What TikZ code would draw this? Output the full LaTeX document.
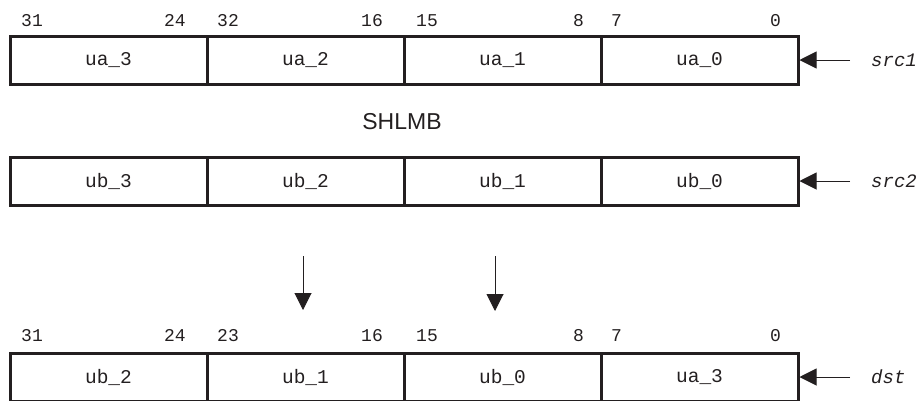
\documentclass[tikz,border=0pt]{standalone}
\usepackage{fontspec}
\newfontfamily\monof{Liberation Mono}
\newfontfamily\sansf{Liberation Sans}
\usetikzlibrary{arrows.meta}
\definecolor{ink}{HTML}{231F20}
\begin{document}
\begin{tikzpicture}[x=1pt,y=-1pt,
  cell/.style={draw=ink,line width=3pt,minimum width=197pt,minimum height=48pt,inner sep=0pt,
    font=\monof\fontsize{19.5}{21}\selectfont,text=ink},
  bitl/.style={anchor=base west,inner sep=0pt,font=\monof\fontsize{18}{20}\selectfont,text=ink},
  bitr/.style={anchor=base east,inner sep=0pt,font=\monof\fontsize{18}{20}\selectfont,text=ink},
  oplabel/.style={anchor=west,inner sep=0pt,font=\monof\itshape\fontsize{19}{21}\selectfont,text=ink},
  inarrow/.style={draw=ink,line width=1pt,-{Triangle[length=17pt,width=17pt]}},
]
\useasboundingbox (0,0) rectangle (924,400);
% row 1
\foreach \i/\t [count=\k from 0] in {3/ua\_3,2/ua\_2,1/ua\_1,0/ua\_0}
  \node[cell] (a\i) at (108.5+197*\k,60) {\t};
% row 2
\foreach \i/\t [count=\k from 0] in {3/ub\_3,2/ub\_2,1/ub\_1,0/ub\_0}
  \node[cell] (b\i) at (108.5+197*\k,181) {\t};
% row 3
\foreach \i/\t [count=\k from 0] in {3/ub\_2,2/ub\_1,1/ub\_0,0/ua\_3}
  \node[cell] (d\i) at (108.5+197*\k,377) {\t};
% bit labels row 1
\node[bitl] (t31) at (21,26) {31};
\node[bitr] (t24) at (186,26) {24};
\node[bitl] (t32) at (217,26) {32};
\node[bitr] (t16) at (383,26) {16};
\node[bitl] (t15) at (416,26) {15};
\node[bitr] (t8) at (584,26) {8};
\node[bitl] (t7) at (611,26) {7};
\node[bitr] (t0) at (781,26) {0};
% bit labels row 3
\node[bitl] (u31) at (21,341) {31};
\node[bitr] (u24) at (186,341) {24};
\node[bitl] (u23) at (217,341) {23};
\node[bitr] (u16) at (383,341) {16};
\node[bitl] (u15) at (416,341) {15};
\node[bitr] (u8) at (584,341) {8};
\node[bitl] (u7) at (611,341) {7};
\node[bitr] (u0) at (781,341) {0};
% title
\node[inner sep=0pt,font=\sansf\fontsize{23}{25}\selectfont,text=ink] (op) at (402,122) {SHLMB};
% operand labels and arrows
\node[oplabel] (s1) at (871,60) {src1};
\node[oplabel] (s2) at (871,181) {src2};
\node[oplabel] (ds) at (871,377) {dst};
\coordinate (e1) at (850,60);
\coordinate (e2) at (850,181);
\coordinate (e3) at (850,377);
\draw[inarrow] (e1) -- (a0.east);
\draw[inarrow] (e2) -- (b0.east);
\draw[inarrow] (e3) -- (d0.east);
% down arrows
\coordinate (p1) at (303,256);
\coordinate (q1) at (303,310);
\coordinate (p2) at (495,256);
\coordinate (q2) at (495,311);
\draw[inarrow] (p1) -- (q1);
\draw[inarrow] (p2) -- (q2);
\end{tikzpicture}
\end{document}
